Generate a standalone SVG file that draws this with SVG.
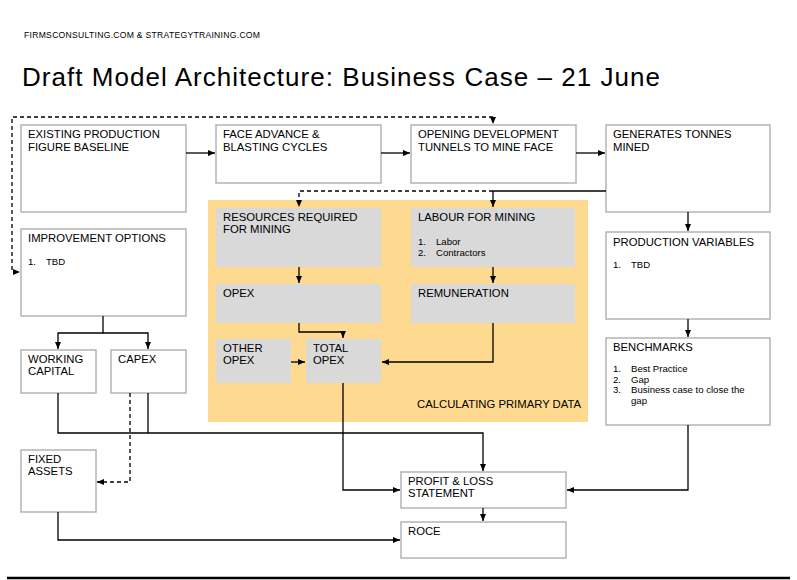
<svg xmlns="http://www.w3.org/2000/svg" width="797" height="580" viewBox="0 0 797 580">
<defs>
<marker id="ah" markerWidth="8" markerHeight="8" refX="7" refY="4" orient="auto" markerUnits="userSpaceOnUse">
<path d="M0,1 L7,4 L0,7 Z" fill="#000"/>
</marker>
<style>
text{font-family:"Liberation Sans",Arial,sans-serif;fill:#000}
.t{font-size:11.3px}
.s{font-size:9.6px}
.box{fill:#fff;stroke:#b4b4b4;stroke-width:1.5}
.g{fill:#d9d9d9;stroke:none}
.c{fill:none;stroke:#000;stroke-width:1.3}
.d{fill:none;stroke:#000;stroke-width:1.3;stroke-dasharray:4,3}
</style>
</defs>
<rect width="797" height="580" fill="#fff"/>
<text x="24" y="38" font-size="8.6" textLength="236">FIRMSCONSULTING.COM &amp; STRATEGYTRAINING.COM</text>
<text x="22" y="86" font-size="26" textLength="638">Draft Model Architecture: Business Case – 21 June</text>
<rect id="calc-region" x="208" y="200" width="380" height="222" fill="#fdda8f"/>
<text x="417" y="408" class="t">CALCULATING PRIMARY DATA</text>

<g id="existing"><rect class="box" x="21" y="125" width="165" height="87"/><text class="t" x="28" y="138">EXISTING PRODUCTION</text><text class="t" x="28" y="151">FIGURE BASELINE</text></g>
<g id="face"><rect class="box" x="216" y="125" width="165" height="58"/><text class="t" x="223" y="138">FACE ADVANCE &amp;</text><text class="t" x="223" y="151">BLASTING CYCLES</text></g>
<g id="opening"><rect class="box" x="411" y="125" width="165" height="58"/><text class="t" x="418" y="138">OPENING DEVELOPMENT</text><text class="t" x="418" y="151">TUNNELS TO MINE FACE</text></g>
<g id="tonnes"><rect class="box" x="606" y="125" width="164" height="87"/><text class="t" x="613" y="138">GENERATES TONNES</text><text class="t" x="613" y="151">MINED</text></g>
<g id="improvement"><rect class="box" x="21" y="229" width="165" height="87"/><text class="t" x="28" y="242">IMPROVEMENT OPTIONS</text><text class="s" x="28" y="265">1.</text><text class="s" x="46" y="265">TBD</text></g>
<g id="resources"><rect class="g" x="216" y="208" width="165" height="59"/><text class="t" x="223" y="221">RESOURCES REQUIRED</text><text class="t" x="223" y="233">FOR MINING</text></g>
<g id="labour"><rect class="g" x="411" y="208" width="164" height="59"/><text class="t" x="418" y="221">LABOUR FOR MINING</text><text class="s" x="418" y="245">1.</text><text class="s" x="436" y="245">Labor</text><text class="s" x="418" y="255.5">2.</text><text class="s" x="436" y="255.5">Contractors</text></g>
<g id="opex"><rect class="g" x="216" y="284" width="165" height="39"/><text class="t" x="223" y="297">OPEX</text></g>
<g id="remuneration"><rect class="g" x="411" y="284" width="164" height="39"/><text class="t" x="418" y="297">REMUNERATION</text></g>
<g id="other-opex"><rect class="g" x="216" y="339" width="75" height="44"/><text class="t" x="223" y="352">OTHER</text><text class="t" x="223" y="364">OPEX</text></g>
<g id="total-opex"><rect class="g" x="306" y="339" width="75" height="44"/><text class="t" x="313" y="352">TOTAL</text><text class="t" x="313" y="364">OPEX</text></g>
<g id="production-variables"><rect class="box" x="606" y="232" width="164" height="87"/><text class="t" x="613" y="246">PRODUCTION VARIABLES</text><text class="s" x="613" y="268">1.</text><text class="s" x="631" y="268">TBD</text></g>
<g id="benchmarks"><rect class="box" x="606" y="338" width="164" height="87"/><text class="t" x="613" y="351">BENCHMARKS</text><text class="s" x="613" y="372">1.</text><text class="s" x="631" y="372">Best Practice</text><text class="s" x="613" y="382.5">2.</text><text class="s" x="631" y="382.5">Gap</text><text class="s" x="613" y="393">3.</text><text class="s" x="631" y="393">Business case to close the</text><text class="s" x="631" y="403.5">gap</text></g>
<g id="working-capital"><rect class="box" x="21" y="350" width="75" height="43"/><text class="t" x="28" y="363">WORKING</text><text class="t" x="28" y="375">CAPITAL</text></g>
<g id="capex"><rect class="box" x="111" y="350" width="75" height="43"/><text class="t" x="118" y="363">CAPEX</text></g>
<g id="fixed-assets"><rect class="box" x="21" y="450" width="75" height="62"/><text class="t" x="28" y="463">FIXED</text><text class="t" x="28" y="475">ASSETS</text></g>
<g id="pnl"><rect class="box" x="401" y="472" width="165" height="36"/><text class="t" x="408" y="485">PROFIT &amp; LOSS</text><text class="t" x="408" y="497">STATEMENT</text></g>
<g id="roce"><rect class="box" x="401" y="522" width="165" height="36"/><text class="t" x="408" y="535">ROCE</text></g>

<g id="connectors">
<path class="d" d="M493,117 H12 V272 H20" marker-end="url(#ah)"/>
<path class="d" d="M493,117 V124" marker-end="url(#ah)"/>
<path class="c" d="M186,153 H215" marker-end="url(#ah)"/>
<path class="c" d="M381,153 H410" marker-end="url(#ah)"/>
<path class="c" d="M576,153 H605" marker-end="url(#ah)"/>
<path class="c" d="M606,191 H493"/>
<path class="d" d="M493,191 H299 V207" marker-end="url(#ah)"/>
<path class="c" d="M493,191 V207" marker-end="url(#ah)"/>
<path class="c" d="M299,267 V283" marker-end="url(#ah)"/>
<path class="c" d="M493,267 V283" marker-end="url(#ah)"/>
<path class="c" d="M299,323 V332 H343 V338" marker-end="url(#ah)"/>
<path class="c" d="M291,362 H305" marker-end="url(#ah)"/>
<path class="c" d="M493,323 V362 H382" marker-end="url(#ah)"/>
<path class="c" d="M688,212 V231" marker-end="url(#ah)"/>
<path class="c" d="M688,319 V337" marker-end="url(#ah)"/>
<path class="c" d="M688,425 V490 H567" marker-end="url(#ah)"/>
<path class="c" d="M103,316 V333 H58 V349" marker-end="url(#ah)"/>
<path class="c" d="M103,333 H148 V349" marker-end="url(#ah)"/>
<path class="c" d="M58,393 V433 H483 V471" marker-end="url(#ah)"/>
<path class="c" d="M148,393 V433"/>
<path class="d" d="M130,393 V482 H97" marker-end="url(#ah)"/>
<path class="c" d="M343,383 V490 H400" marker-end="url(#ah)"/>
<path class="c" d="M58,512 V540 H400" marker-end="url(#ah)"/>
<path class="c" d="M483,508 V521" marker-end="url(#ah)"/>
</g>
<line x1="7" y1="578" x2="790" y2="578" stroke="#000" stroke-width="2.5"/>
</svg>
